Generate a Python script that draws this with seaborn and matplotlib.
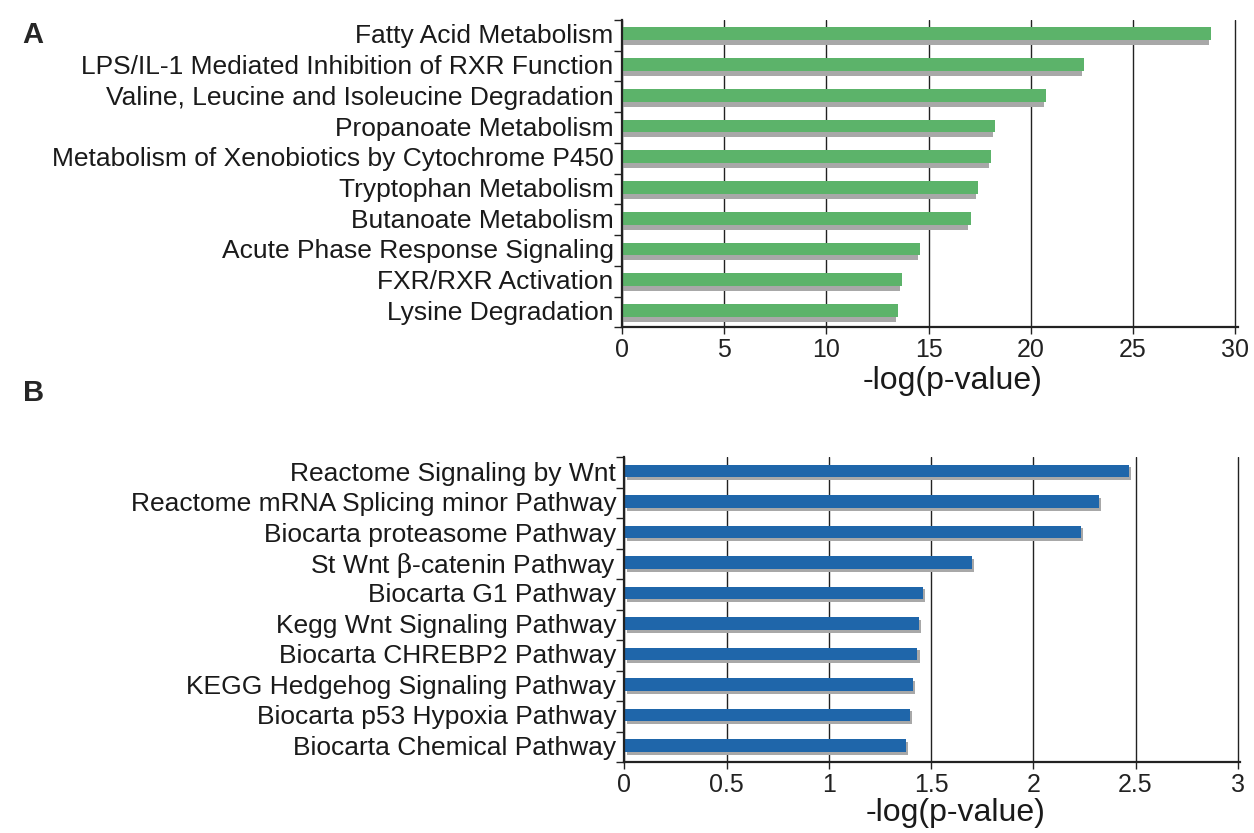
import matplotlib
matplotlib.use("Agg")
import matplotlib.pyplot as plt
import matplotlib.patheffects as pe
import seaborn as sns
import pandas as pd
import numpy as np

pathways_a = [
    "Fatty Acid Metabolism",
    "LPS/IL-1 Mediated Inhibition of RXR Function",
    "Valine, Leucine and Isoleucine Degradation",
    "Propanoate Metabolism",
    "Metabolism of Xenobiotics by Cytochrome P450",
    "Tryptophan Metabolism",
    "Butanoate Metabolism",
    "Acute Phase Response Signaling",
    "FXR/RXR Activation",
    "Lysine Degradation",
]
values_a = [28.8, 22.6, 20.75, 18.25, 18.05, 17.4, 17.05, 14.6, 13.7, 13.5]
ticks_a = [0, 5, 10, 15, 20, 25, 30]

pathways_b = [
    "Reactome Signaling by Wnt",
    "Reactome mRNA Splicing minor Pathway",
    "Biocarta proteasome Pathway",
    r"St Wnt $\beta$-catenin Pathway",
    "Biocarta G1 Pathway",
    "Kegg Wnt Signaling Pathway",
    "Biocarta CHREBP2 Pathway",
    "KEGG Hedgehog Signaling Pathway",
    "Biocarta p53 Hypoxia Pathway",
    "Biocarta Chemical Pathway",
]
values_b = [2.47, 2.32, 2.235, 1.70, 1.46, 1.44, 1.433, 1.413, 1.395, 1.379]
ticks_b = [0, 0.5, 1, 1.5, 2, 2.5, 3]
ticklabels_b = ["0", "0.5", "1", "1.5", "2", "2.5", "3"]

sns.set_theme(style="white")
plt.rcParams["font.family"] = ["Liberation Sans", "DejaVu Sans"]
plt.rcParams["mathtext.fontset"] = "custom"
plt.rcParams["mathtext.rm"] = "DejaVu Serif"
plt.rcParams["mathtext.it"] = "DejaVu Serif"

fig = plt.figure(figsize=(12.54, 8.33), dpi=100)
ax_a = fig.add_axes([0.496, 0.607, 0.491, 0.369])
ax_b = fig.add_axes([0.498, 0.085, 0.491, 0.366])


def draw(ax, names, vals, color, ticks, ticklabels, xmax, shadow_off, label_y):
    df = pd.DataFrame({"pathway": names, "value": vals})
    sns.barplot(data=df, x="value", y="pathway", orient="h", color=color,
                width=0.42, ax=ax, saturation=1, edgecolor="none")
    for p in ax.patches:
        p.set_path_effects([
            pe.SimplePatchShadow(offset=shadow_off, shadow_rgbFace="#a8a8a8", alpha=1.0),
            pe.Normal(),
        ])
    ax.set_xlim(0, xmax * 1.004)
    ax.set_ylim(9.47, -0.45)
    ax.set_xticks(ticks)
    ax.set_xticklabels(ticklabels, fontsize=18)
    ax.xaxis.grid(True, color="#222222", linewidth=1.0)
    ax.yaxis.grid(False)
    ax.set_axisbelow(True)
    for s in ["top", "right"]:
        ax.spines[s].set_visible(False)
    for s in ["left", "bottom"]:
        ax.spines[s].set_visible(True)
        ax.spines[s].set_color("#222222")
        ax.spines[s].set_linewidth(1.6)
    ax.tick_params(axis="x", which="major", direction="out", length=5, width=1,
                   color="#222222", bottom=True, pad=3, labelcolor="#222222")
    ax.tick_params(axis="y", which="major", length=0, pad=6, labelsize=19,
                   labelcolor="#1a1a1a")
    ax.set_yticks(np.arange(len(names) + 1) - 0.45, minor=True)
    ax.tick_params(axis="y", which="minor", direction="out", length=6, width=1,
                   color="#222222", left=True)
    ax.set_xlabel("-log(p-value)", fontsize=23, color="#1a1a1a")
    ax.xaxis.set_label_coords(0.537, label_y)
    ax.set_ylabel("")


draw(ax_a, pathways_a, values_a, "#5cb36a", ticks_a, [str(t) for t in ticks_a], 30,
     (-1.5, -3.5), -0.125)
draw(ax_b, pathways_b, values_b, "#1f66aa", ticks_b, ticklabels_b, 3,
     (1.5, -2.0), -0.118)

fig.text(0.018, 0.975, "A", fontsize=21, fontweight="bold", va="top", ha="left")
fig.text(0.018, 0.545, "B", fontsize=21, fontweight="bold", va="top", ha="left")

fig.savefig("out.png", dpi=100, facecolor="white")
